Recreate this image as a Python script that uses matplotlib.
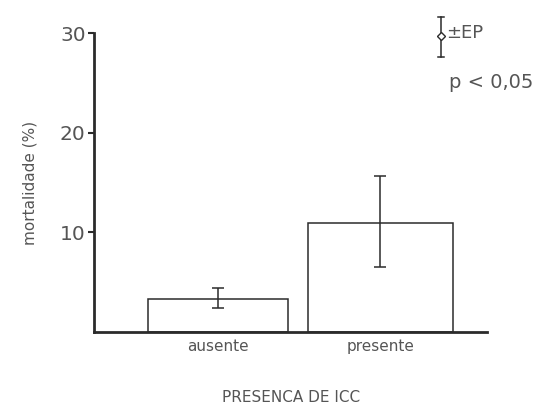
import numpy as np
import matplotlib as mpl
mpl.use("agg")
import matplotlib.pyplot as plt
from matplotlib.lines import Line2D

mpl.rcParams['font.family'] = 'DejaVu Sans'

categories = ["ausente", "presente"]
mortality = [3.3, 10.9]
ep = [1.0, 4.6]
err_center = [3.4, 11.1]
yticks = [10, 20, 30]

ink = "#2b2b2b"
txt = "#555555"

fig = plt.figure(figsize=(5.45, 4.09), dpi=100)
ax = fig.add_axes([0.1725, 0.188, 0.7215, 0.731])

pos = [1.24, 2.86]
ax.bar(pos, mortality, width=[1.40, 1.45], facecolor="white",
       edgecolor=ink, linewidth=1.1, zorder=2)
ax.errorbar(pos, err_center, yerr=ep, fmt="none", ecolor=ink,
            elinewidth=1.1, capsize=4, capthick=1.1, zorder=3)

ax.set_xlim(0, 3.93)
ax.set_ylim(0, 30)
ax.spines["top"].set_visible(False)
ax.spines["right"].set_visible(False)
ax.spines["left"].set_linewidth(2)
ax.spines["bottom"].set_linewidth(2)
ax.spines["left"].set_color(ink)
ax.spines["bottom"].set_color(ink)

ax.set_yticks(yticks)
ax.set_yticklabels([str(t) for t in yticks], fontsize=14.5, color=txt)
ax.tick_params(axis="y", direction="out", length=4, width=1.5, color=ink, pad=2)
ax.set_xticks(pos)
ax.set_xticklabels(categories, fontsize=11, color=txt)
ax.tick_params(axis="x", length=0, pad=5)

ax.set_ylabel("mortalidade (%)", fontsize=11, color=txt, labelpad=16)
ax.set_xlabel("PRESENCA DE ICC", fontsize=11, color=txt, labelpad=26)

# error key in the top right corner
kx = 441 / 545
ktop, kbot, kmid = 1 - 17 / 409, 1 - 57 / 409, 1 - 36 / 409
fig.add_artist(Line2D([kx, kx], [kbot, ktop], color=ink, lw=1.1))
for yy in (ktop, kbot):
    fig.add_artist(Line2D([kx - 0.006, kx + 0.006], [yy, yy], color=ink, lw=1.1))
fig.add_artist(Line2D([kx], [kmid], marker="D", markersize=4,
                      markerfacecolor="white", markeredgecolor=ink, lw=0))
fig.text(446 / 545, 1 - 33 / 409, "±EP", fontsize=13, color=txt, va="center")
fig.text(449 / 545, 1 - 82 / 409, "p < 0,05", fontsize=14, color=txt, va="center")

fig.savefig("out.png", dpi=100)
